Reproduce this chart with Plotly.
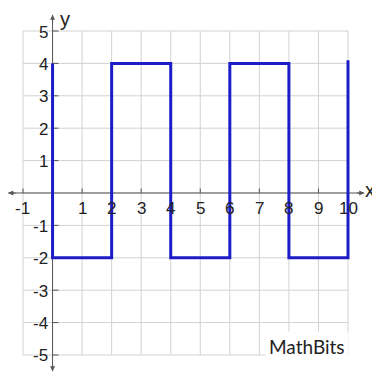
import plotly.graph_objects as go

# square wave
WAVE_X = [0, 0, 2, 2, 4, 4, 6, 6, 8, 8, 10, 10]
WAVE_Y = [4, -2, -2, 4, 4, -2, -2, 4, 4, -2, -2, 4.1]

GRID_X = list(range(-1, 11))
GRID_Y = list(range(-5, 6))
X_TICK_LABELS = [-1, 1, 2, 3, 4, 5, 6, 7, 8, 9, 10]
Y_TICK_LABELS = [5, 4, 3, 2, 1, -1, -2, -3, -4, -5]

BLUE = "#1c1cc8"
GRID = "#d2d2d2"
AXIS = "#555555"
TEXT = "#222222"
FONT = "Liberation Sans, Arial, sans-serif"

# the page body adds an 8px margin, so the figure is 8px smaller each way
W, H = 372, 365
X_RANGE = [-1.508, 11.083]
Y_RANGE = [-5.556, 5.710]
X_AXIS_END = [-1.5, 10.55]
Y_AXIS_END = [-5.5, 5.5]

fig = go.Figure()

shapes = []
for gx in GRID_X:
    shapes.append(dict(type="line", x0=gx, x1=gx, y0=GRID_Y[0], y1=GRID_Y[-1],
                       line=dict(color=GRID, width=1), layer="below"))
for gy in GRID_Y:
    shapes.append(dict(type="line", x0=GRID_X[0], x1=GRID_X[-1], y0=gy, y1=gy,
                       line=dict(color=GRID, width=1), layer="below"))
# axis lines
shapes.append(dict(type="line", x0=X_AXIS_END[0], x1=X_AXIS_END[1], y0=0, y1=0,
                   line=dict(color=AXIS, width=1), layer="below"))
shapes.append(dict(type="line", x0=0, x1=0, y0=Y_AXIS_END[0], y1=Y_AXIS_END[1],
                   line=dict(color=AXIS, width=1), layer="below"))
# small tick marks on the axes
for gx in GRID_X:
    if gx != 0:
        shapes.append(dict(type="line", x0=gx, x1=gx, y0=0, y1=0.14,
                           line=dict(color=AXIS, width=1), layer="below"))
for gy in GRID_Y:
    if gy != 0:
        shapes.append(dict(type="line", x0=0, x1=0.2, y0=gy, y1=gy,
                           line=dict(color=AXIS, width=1), layer="below"))

fig.add_trace(go.Scatter(
    x=WAVE_X, y=WAVE_Y, mode="lines",
    line=dict(color=BLUE, width=3), hoverinfo="skip",
))

ann = []
# arrowheads at the axis ends
arrow = dict(xref="x", yref="y", axref="x", ayref="y", text="", showarrow=True,
             arrowhead=2, arrowsize=1, arrowwidth=1, arrowcolor=AXIS)
ann.append(dict(arrow, x=X_AXIS_END[1], y=0, ax=X_AXIS_END[1] - 0.3, ay=0))
ann.append(dict(arrow, x=X_AXIS_END[0], y=0, ax=X_AXIS_END[0] + 0.3, ay=0))
ann.append(dict(arrow, x=0, y=Y_AXIS_END[1], ax=0, ay=Y_AXIS_END[1] - 0.3))
ann.append(dict(arrow, x=0, y=Y_AXIS_END[0], ax=0, ay=Y_AXIS_END[0] + 0.3))

for v in X_TICK_LABELS:
    ann.append(dict(x=v, y=0, xref="x", yref="y", text=str(v), showarrow=False,
                    xanchor="center", yanchor="middle", yshift=-16, xshift=-1 if v < 0 else 0,
                    font=dict(family=FONT, size=17, color=TEXT)))
for v in Y_TICK_LABELS:
    ann.append(dict(x=0, y=v, xref="x", yref="y", text=str(v), showarrow=False,
                    xanchor="right", yanchor="middle", xshift=-3, yshift=-1,
                    font=dict(family=FONT, size=17, color=TEXT)))

ann.append(dict(x=X_AXIS_END[1], y=0, xref="x", yref="y", text="x", showarrow=False,
                xanchor="left", yanchor="middle", xshift=-1, yshift=3,
                font=dict(family=FONT, size=20, color=TEXT)))
ann.append(dict(x=0, y=1, xref="x", yref="paper", text="y", showarrow=False,
                xanchor="left", yanchor="top", xshift=5, yshift=2,
                font=dict(family=FONT, size=20, color=TEXT)))
ann.append(dict(x=10, y=-5, xref="x", yref="y", text="MathBits", showarrow=False,
                xanchor="right", yanchor="middle", yshift=8, xshift=1,
                bgcolor="white", borderpad=3,
                font=dict(family="Lato, Open Sans, sans-serif", size=19, color=TEXT)))

fig.update_layout(
    width=W, height=H,
    margin=dict(l=0, r=0, t=0, b=0, pad=0),
    paper_bgcolor="white", plot_bgcolor="white",
    showlegend=False,
    shapes=shapes,
    annotations=ann,
    xaxis=dict(range=X_RANGE, visible=False, fixedrange=True),
    yaxis=dict(range=Y_RANGE, visible=False, fixedrange=True),
)

fig.write_html("out.html")
